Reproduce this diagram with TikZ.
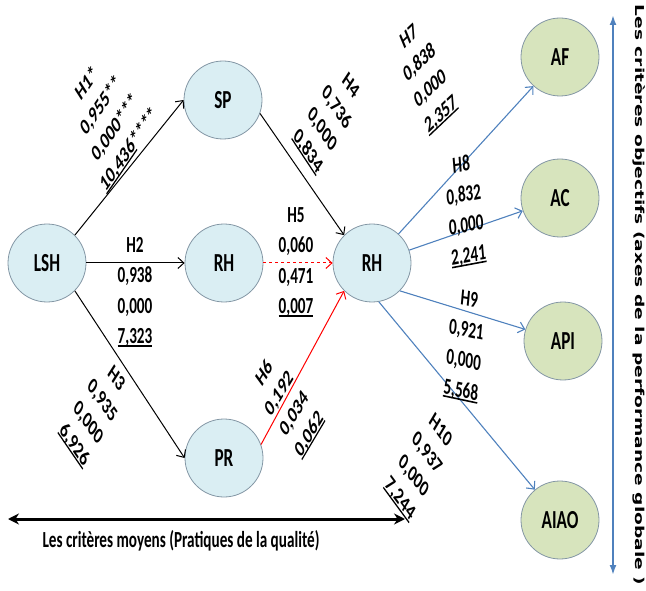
\documentclass[tikz,border=0pt]{standalone}
\usepackage{fontspec}
\usepackage{graphicx}
\setmainfont{Carlito}
\newfontfamily\vfont{DejaVu Sans}
\usetikzlibrary{arrows.meta}
\definecolor{cblue}{HTML}{DAEEF3}
\definecolor{cgreen}{HTML}{D7E4BD}
\definecolor{cborder}{HTML}{8497A5}
\definecolor{lblue}{HTML}{4F81BD}
\newcommand\myul[1]{\setbox0=\hbox{#1}\rlap{\rule[-2.8pt]{\wd0}{1.6pt}}\box0}
\newcommand\sq[2]{\scalebox{0.66}[1]{\rotatebox{#1}{#2}}}
\newcommand\sqt[1]{\scalebox{0.66}[1]{#1}}
\newcommand\grp[1]{\begin{tabular}{@{}c@{}}#1\end{tabular}}
\tikzset{
  circ/.style={circle, draw=cborder, line width=0.8pt, minimum size=78pt, inner sep=0pt,
    font=\bfseries\fontsize{26}{28}\selectfont},
  bnode/.style={circ, fill=cblue},
  gnode/.style={circ, fill=cgreen},
  lab/.style={inner sep=0pt, font=\bfseries\fontsize{23}{30.5}\selectfont},
  blk/.style={draw=black, line width=1pt, -{Straight Barb[length=6pt,width=11pt]}},
  redl/.style={draw=red, line width=1pt, -{Straight Barb[length=6pt,width=11pt]}},
  bluel/.style={draw=lblue, line width=1.1pt, -{Straight Barb[length=6pt,width=11pt]}},
}
\begin{document}
\begin{tikzpicture}[x=1pt,y=-1pt]
\useasboundingbox (0,0) rectangle (646,591);
% circles
\node[bnode] (LSH) at (47,263) {\sqt{LSH}};
\node[bnode] (SP) at (223,100) {\sqt{SP}};
\node[bnode] (RHm) at (224,263) {\sqt{RH}};
\node[bnode] (PR) at (224,458) {\sqt{PR}};
\node[bnode] (RH) at (372,263) {\sqt{RH}};
\node[gnode] (AF) at (560,57) {\sqt{AF}};
\node[gnode] (AC) at (560,198) {\sqt{AC}};
\node[gnode] (API) at (563,341) {\sqt{API}};
\node[gnode] (AIAO) at (560,520) {\sqt{AIAO}};
% connectors
\draw[blk] (LSH.45) -- (SP.180);
\draw[blk] (LSH.east) -- (RHm.west);
\draw[blk] (LSH.-45) -- (PR.180);
\draw[blk] (SP.-20) -- (RH.135);
\draw[redl, dashed] (RHm.east) -- (RH.west);
\draw[redl] (PR.20) -- (RH.225);
\draw[bluel] (RH) -- (AF);
\draw[bluel] (RH) -- (AC);
\draw[bluel] (RH.-45) -- (API);
\draw[bluel] (RH.-80) -- (AIAO);
% labels
\node[lab] (h1) at (108,117) {\sq{44}{\grp{H1*\\0,955**\\0,000***\\\myul{10,436}****}}};
\node[lab] (h2) at (135,292) {\sq{0}{\grp{H2\\0,938\\0,000\\\myul{7,323}}}};
\node[lab] (h3) at (95,412) {\sq{-44}{\grp{H3\\0,935\\0,000\\\myul{6,926}}}};
\node[lab] (h4) at (329,119) {\sq{-45}{\grp{H4\\0,736\\0,000\\\myul{0,834}}}};
\node[lab] (h5) at (296,262) {\sq{0}{\grp{H5\\0,060\\0,471\\\myul{0,007}}}};
\node[lab] (h6) at (287,404) {\sq{48}{\grp{H6\\0,192\\0,034\\\myul{0,062}}}};
\node[lab] (h7) at (425,76) {\sq{32}{\grp{H7\\0,838\\0,000\\\myul{2,357}}}};
\node[lab] (h8) at (465,211) {\sq{7}{\grp{H8\\0,832\\0,000\\\myul{2,241}}}};
\node[lab] (h9) at (465,346) {\sq{-8}{\grp{H9\\0,921\\0,000\\\myul{5,568}}}};
\node[lab] (h10) at (420,465) {\sq{-42}{\grp{H10\\0,937\\0,000\\\myul{7,244}}}};
% bottom axis
\coordinate (bl) at (8,519);
\coordinate (br) at (405,519);
\draw[line width=3pt, {Stealth[length=11pt,width=11pt]}-{Stealth[length=11pt,width=11pt]}] (bl) -- (br);
\node[lab] (bottomtxt) at (181,541) {\sqt{Les critères moyens (Pratiques de la qualité)}};
% right axis
\coordinate (vt) at (613,15);
\coordinate (vb) at (613,575);
\draw[lblue, line width=2pt, {Latex[length=10pt,width=7pt]}-{Latex[length=10pt,width=7pt]}] (vt) -- (vb);
\node[inner sep=0pt, font=\vfont\bfseries\fontsize{18.6}{20}\selectfont] (righttxt) at (639,295) {\sq{-90}{Les critères objectifs (axes de la performance globale )}};
\end{tikzpicture}
\end{document}
